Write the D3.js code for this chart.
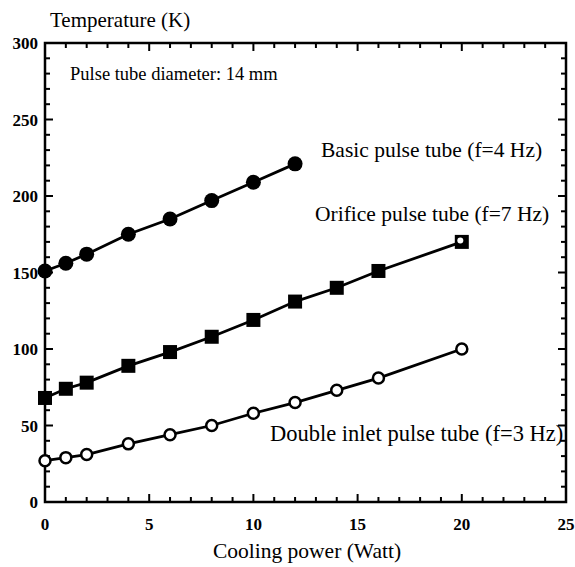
<!DOCTYPE html>
<html>
<head>
<meta charset="utf-8">
<script src="https://cdn.jsdelivr.net/npm/d3@7"></script>
<style>
  body { margin: 0; background: #fff; }
  svg text { font-family: "Liberation Serif", "DejaVu Serif", serif; fill: #000; }
</style>
</head>
<body>
<div id="chart"></div>
<script>
// Cooling power (W) vs temperature (K) for three pulse tube types
const width = 575;
const height = 567;

const basicPower = [0, 1, 2, 4, 6, 8, 10, 12];
const basicTemp = [151, 156, 162, 175, 185, 197, 209, 221];

const orificePower = [0, 1, 2, 4, 6, 8, 10, 12, 14, 16, 20];
const orificeTemp = [68, 74, 78, 89, 98, 108, 119, 131, 140, 151, 170];

const doublePower = [0, 1, 2, 4, 6, 8, 10, 12, 14, 16, 20];
const doubleTemp = [27, 29, 31, 38, 44, 50, 58, 65, 73, 81, 100];

const xTicks = [0, 5, 10, 15, 20, 25];
const yTicks = [0, 50, 100, 150, 200, 250, 300];

const margin = { left: 45, right: 9, top: 43, bottom: 65 };

const x = d3.scaleLinear().domain([0, 25]).range([margin.left, width - margin.right]);
const y = d3.scaleLinear().domain([0, 300]).range([height - margin.bottom, margin.top]);

const svg = d3.select('#chart').append('svg')
    .attr('width', width)
    .attr('height', height);

// Frame
svg.append('rect')
    .attr('x', x(0)).attr('y', y(300))
    .attr('width', x(25) - x(0)).attr('height', y(0) - y(300))
    .attr('fill', 'none').attr('stroke', '#000').attr('stroke-width', 2.5);

// Inward ticks on all four sides
const xMinor = d3.range(0, 26, 1);
const yMinor = d3.range(0, 301, 10);
function tickLen(v, step) { return v % step === 0 ? 8 : 5; }

xMinor.forEach(v => {
    const L = tickLen(v, 5);
    svg.append('line').attr('x1', x(v)).attr('x2', x(v)).attr('y1', y(0)).attr('y2', y(0) - L)
        .attr('stroke', '#000').attr('stroke-width', 2);
    svg.append('line').attr('x1', x(v)).attr('x2', x(v)).attr('y1', y(300)).attr('y2', y(300) + L)
        .attr('stroke', '#000').attr('stroke-width', 2);
});
yMinor.forEach(v => {
    const L = tickLen(v, 50);
    svg.append('line').attr('x1', x(0)).attr('x2', x(0) + L).attr('y1', y(v)).attr('y2', y(v))
        .attr('stroke', '#000').attr('stroke-width', 2);
    svg.append('line').attr('x1', x(25)).attr('x2', x(25) - L).attr('y1', y(v)).attr('y2', y(v))
        .attr('stroke', '#000').attr('stroke-width', 2);
});

// Tick labels
svg.selectAll('.xlab').data(xTicks).enter().append('text')
    .attr('x', d => x(d)).attr('y', y(0) + 28)
    .attr('text-anchor', 'middle')
    .attr('font-size', 17).attr('font-weight', 'bold')
    .text(d => d);
svg.selectAll('.ylab').data(yTicks).enter().append('text')
    .attr('x', x(0) - 7).attr('y', d => y(d) + 6)
    .attr('text-anchor', 'end')
    .attr('font-size', 17).attr('font-weight', 'bold')
    .text(d => d);

// Axis titles
svg.append('text').attr('x', 50).attr('y', 27)
    .attr('font-size', 21)
    .text('Temperature (K)');
svg.append('text').attr('x', 307).attr('y', 558)
    .attr('text-anchor', 'middle').attr('font-size', 21.5)
    .text('Cooling power (Watt)');

// Series lines
const line = d3.line().x(d => x(d[0])).y(d => y(d[1]));
function pairs(px, py) { return px.map((p, i) => [p, py[i]]); }

const basic = pairs(basicPower, basicTemp);
const orifice = pairs(orificePower, orificeTemp);
const double = pairs(doublePower, doubleTemp);

[basic, orifice, double].forEach(s => {
    svg.append('path').attr('d', line(s))
        .attr('fill', 'none').attr('stroke', '#000').attr('stroke-width', 2.8);
});

// Markers
svg.selectAll('.basic').data(basic).enter().append('circle')
    .attr('cx', d => x(d[0])).attr('cy', d => y(d[1])).attr('r', 7.5)
    .attr('fill', '#000');

svg.selectAll('.orifice').data(orifice).enter().append('rect')
    .attr('x', d => x(d[0]) - 7).attr('y', d => y(d[1]) - 7)
    .attr('width', 14).attr('height', 14)
    .attr('fill', '#000');

// last orifice marker is printed with an open centre
const lastOr = orifice[orifice.length - 1];
svg.append('circle')
    .attr('cx', x(lastOr[0]) - 1.5).attr('cy', y(lastOr[1]) - 1.5).attr('r', 3)
    .attr('fill', '#fff');

svg.selectAll('.double').data(double).enter().append('circle')
    .attr('cx', d => x(d[0])).attr('cy', d => y(d[1])).attr('r', 5.5)
    .attr('fill', '#fff').attr('stroke', '#000').attr('stroke-width', 2.5);

// Annotations
svg.append('text').attr('x', 70).attr('y', 80).attr('font-size', 18.5)
    .text('Pulse tube diameter: 14 mm');
svg.append('text').attr('x', 321).attr('y', 157).attr('font-size', 21.5)
    .text('Basic pulse tube (f=4 Hz)');
svg.append('text').attr('x', 315).attr('y', 221).attr('font-size', 21.5)
    .text('Orifice pulse tube (f=7 Hz)');
svg.append('text').attr('x', 270).attr('y', 441).attr('font-size', 22.5)
    .text('Double inlet pulse tube (f=3 Hz)');
</script>
</body>
</html>
